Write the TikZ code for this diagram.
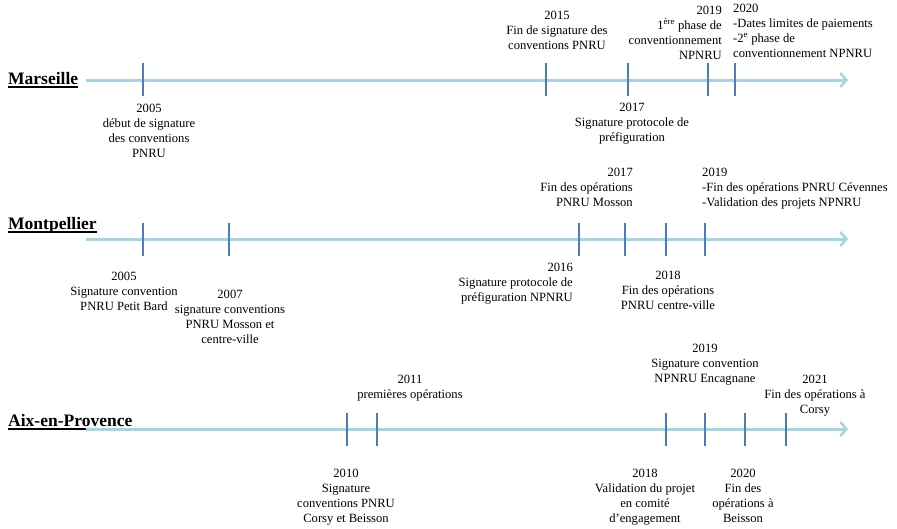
\documentclass[tikz,border=0pt]{standalone}
\usepackage{fontspec}
\setmainfont{Liberation Serif}
\usetikzlibrary{arrows.meta}
\definecolor{axisblue}{RGB}{165,212,226}
\definecolor{tickblue}{RGB}{74,126,187}
\begin{document}
\begin{tikzpicture}[x=1pt,y=-1pt,
  axis/.style={draw=axisblue,line width=3pt,-{Straight Barb[length=6pt,width=14pt,line width=2.5pt]}},
  tick/.style={draw=tickblue,line width=1.1pt},
  lbl/.style={inner sep=0pt,font=\fontsize{12.6}{15}\selectfont},
  city/.style={inner sep=0pt,font=\fontsize{17.5}{20}\selectfont\bfseries,anchor=base west},
  uline/.style={line width=1.4pt,black}]
\useasboundingbox (0,0) rectangle (897,528);

% ---------------- Marseille ----------------
\node[city] (cM) at (8,84) {Marseille};
\draw[uline] ([yshift=-3pt]cM.base west) -- ([yshift=-3pt]cM.base east);
\coordinate (M0) at (86,80);
\coordinate (M1) at (848,80);
\draw[axis] (M0) -- (M1);
\foreach \x/\n in {143/a,546/b,628/c,708/d,735/e}{
  \coordinate (Mt\n) at (\x,63);
  \coordinate (Mb\n) at (\x,96);
  \draw[tick] (Mt\n) -- (Mb\n);
}
\node[lbl,align=center,anchor=base] (M2005) at (149,157) {2005\\début de signature\\des conventions\\PNRU};
\node[lbl,align=center,anchor=base] (M2015) at (557,49) {2015\\Fin de signature des\\conventions PNRU};
\node[lbl,align=center,anchor=base] (M2017) at (632,141) {2017\\Signature protocole de\\préfiguration};
\node[lbl,align=right,anchor=base east] (M2019) at (722,59) {2019\\1\textsuperscript{ère} phase de\\conventionnement\\NPNRU};
\node[lbl,align=left,anchor=base west] (M2020) at (733,57) {2020\\-Dates limites de paiements\\-2\textsuperscript{e} phase de\\conventionnement NPNRU};

% ---------------- Montpellier ----------------
\node[city] (cMo) at (8,229) {Montpellier};
\draw[uline] ([yshift=-3pt]cMo.base west) -- ([yshift=-3pt]cMo.base east);
\coordinate (P0) at (86,239);
\coordinate (P1) at (848,239);
\draw[axis] (P0) -- (P1);
\foreach \x/\n in {143/a,229/b,579/c,625/d,666/e,705/f}{
  \coordinate (Pt\n) at (\x,223);
  \coordinate (Pb\n) at (\x,256);
  \draw[tick] (Pt\n) -- (Pb\n);
}
\node[lbl,align=center,anchor=base] (P2005) at (124,310) {2005\\Signature convention\\PNRU Petit Bard};
\node[lbl,align=center,anchor=base] (P2007) at (230,343) {2007\\signature conventions\\PNRU Mosson et\\centre-ville};
\node[lbl,align=right,anchor=base east] (P2016) at (573,301) {2016\\Signature protocole de\\préfiguration NPNRU};
\node[lbl,align=right,anchor=base east] (P2017) at (633,206) {2017\\Fin des opérations\\PNRU Mosson};
\node[lbl,align=center,anchor=base] (P2018) at (668,309) {2018\\Fin des opérations\\PNRU centre-ville};
\node[lbl,align=left,anchor=base west] (P2019) at (702,206) {2019\\-Fin des opérations PNRU Cévennes\\-Validation des projets NPNRU};

% ---------------- Aix-en-Provence ----------------
\node[city] (cA) at (8,426) {Aix-en-Provence};
\draw[uline] ([yshift=-3pt]cA.base west) -- ([yshift=-3pt]cA.base east);
\coordinate (A0) at (86,429);
\coordinate (A1) at (848,429);
\draw[axis] (A0) -- (A1);
\foreach \x/\n in {347/a,377/b,666/c,705/d,745/e,786/f}{
  \coordinate (At\n) at (\x,413);
  \coordinate (Ab\n) at (\x,446);
  \draw[tick] (At\n) -- (Ab\n);
}
\node[lbl,align=center,anchor=base] (A2010) at (346,522) {2010\\Signature\\conventions PNRU\\Corsy et Beisson};
\node[lbl,align=center,anchor=base] (A2011) at (410,398) {2011\\premières opérations};
\node[lbl,align=center,anchor=base] (A2018) at (645,522) {2018\\Validation du projet\\en comité\\d’engagement};
\node[lbl,align=center,anchor=base] (A2019) at (705,382) {2019\\Signature convention\\NPNRU Encagnane};
\node[lbl,align=center,anchor=base] (A2020) at (743,522) {2020\\Fin des\\opérations à\\Beisson};
\node[lbl,align=center,anchor=base] (A2021) at (815,413) {2021\\Fin des opérations à\\Corsy};
\end{tikzpicture}
\end{document}
